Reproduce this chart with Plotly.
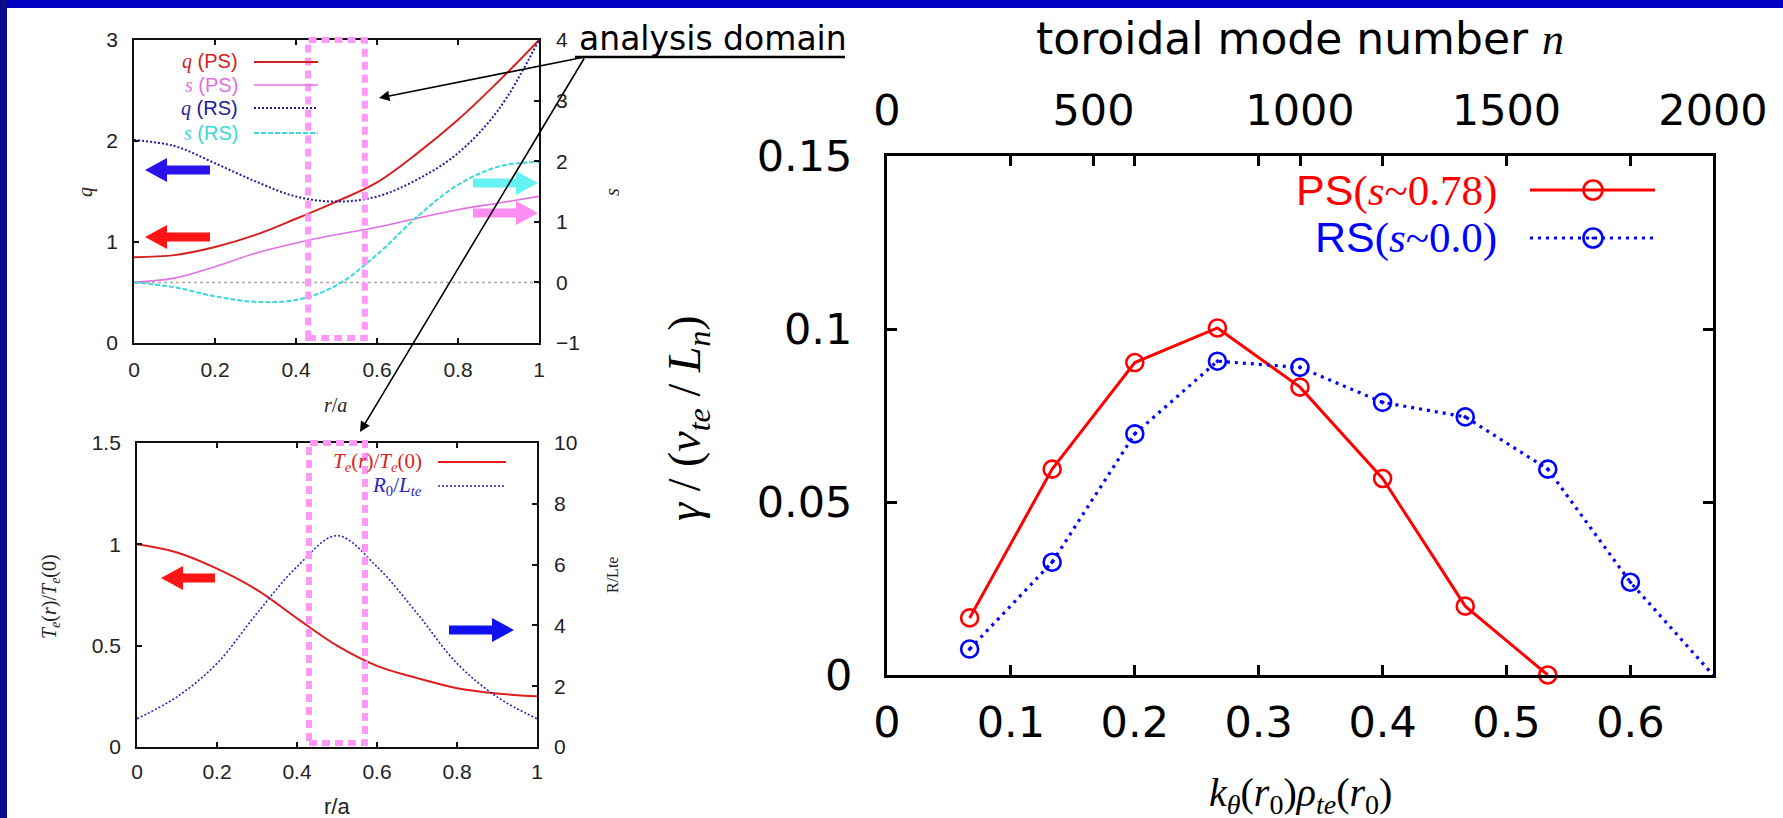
import plotly.graph_objects as go

W, H = 1783, 818

# ---- radial profiles on the r/a grid ----
r_grid = [0.0, 0.1, 0.2, 0.3, 0.4, 0.5, 0.6, 0.7, 0.8, 0.9, 1.0]
q_ps = [0.85, 0.87, 0.95, 1.07, 1.23, 1.40, 1.59, 1.88, 2.21, 2.59, 3.00]
s_ps = [0.00, 0.07, 0.26, 0.48, 0.65, 0.79, 0.91, 1.06, 1.20, 1.31, 1.42]
q_rs = [2.01, 1.95, 1.78, 1.60, 1.45, 1.40, 1.45, 1.62, 1.88, 2.31, 3.00]
s_rs = [0.00, -0.08, -0.23, -0.32, -0.29, -0.05, 0.46, 1.09, 1.61, 1.91, 1.99]
te_ratio = [1.00, 0.96, 0.88, 0.775, 0.635, 0.50, 0.40, 0.34, 0.29, 0.264, 0.25]
r0_over_lte = [0.93, 1.65, 2.75, 4.40, 5.93, 6.95, 5.93, 4.40, 2.75, 1.65, 0.93]

# analysis domain in r/a
domain_r = [0.43, 0.57]

# ---- linear growth rate vs poloidal wave number ----
k_ps = [0.0667, 0.1333, 0.2, 0.2667, 0.3333, 0.4, 0.4667, 0.5333]
gamma_ps = [0.0165, 0.0595, 0.0903, 0.1003, 0.0832, 0.0568, 0.0199, 0.0]
k_rs = [0.0667, 0.1333, 0.2, 0.2667, 0.3333, 0.4, 0.4667, 0.5333, 0.6, 0.6667]
gamma_rs = [0.0075, 0.0326, 0.0697, 0.0907, 0.0889, 0.0788, 0.0746, 0.0595, 0.0268, 0.0]
n_rs = [200, 400, 600, 800, 1000, 1200, 1400, 1600, 1800, 2000]

k_ticks = [0, 0.1, 0.2, 0.3, 0.4, 0.5, 0.6]
k_ticktext = ["0", "0.1", "0.2", "0.3", "0.4", "0.5", "0.6"]
n_ticks = [0, 500, 1000, 1500, 2000]
g_ticks = [0, 0.05, 0.1, 0.15]
g_ticktext = ["0", "0.05", "0.1", "0.15"]

SANS = "Liberation Sans"
SERIF = "Liberation Serif"
WIDE = "DejaVu Sans"

C_QPS, C_SPS, C_QRS, C_SRS = "#d42020", "#e46ee4", "#20209a", "#3cd8d8"


def px(x):
    return x / W


def py(y):
    return 1 - y / H


fig = go.Figure()

# top-left: q and s profiles
fig.add_trace(go.Scatter(x=r_grid, y=q_ps, xaxis="x", yaxis="y", mode="lines",
                         line=dict(color=C_QPS, width=2, shape="spline"), hoverinfo="skip"))
fig.add_trace(go.Scatter(x=r_grid, y=q_rs, xaxis="x", yaxis="y", mode="lines",
                         line=dict(color=C_QRS, width=2, dash="2px,2px", shape="spline"), hoverinfo="skip"))
fig.add_trace(go.Scatter(x=r_grid, y=s_ps, xaxis="x", yaxis="y2", mode="lines",
                         line=dict(color=C_SPS, width=1.6, shape="spline"), hoverinfo="skip"))
fig.add_trace(go.Scatter(x=r_grid, y=s_rs, xaxis="x", yaxis="y2", mode="lines",
                         line=dict(color=C_SRS, width=2, dash="5px,2px", shape="spline"), hoverinfo="skip"))

# bottom-left: temperature and gradient profiles
fig.add_trace(go.Scatter(x=r_grid, y=te_ratio, xaxis="x2", yaxis="y3", mode="lines",
                         line=dict(color="#e01c1c", width=2, shape="spline"), hoverinfo="skip"))
fig.add_trace(go.Scatter(x=r_grid, y=r0_over_lte, xaxis="x2", yaxis="y4", mode="lines",
                         line=dict(color="#2424c0", width=1.6, dash="2px,2px", shape="spline"),
                         hoverinfo="skip"))

# right: growth rates
fig.add_trace(go.Scatter(x=k_ps, y=gamma_ps, xaxis="x3", yaxis="y5", mode="lines+markers",
                         line=dict(color="#ff0000", width=3),
                         marker=dict(symbol="circle-open", size=17, color="#ff0000",
                                     line=dict(width=2.6, color="#ff0000")),
                         cliponaxis=False, hoverinfo="skip"))
fig.add_trace(go.Scatter(x=k_rs, y=gamma_rs, xaxis="x3", yaxis="y5", mode="lines+markers",
                         line=dict(color="#0000ff", width=3.2, dash="3px,5px"),
                         marker=dict(symbol="circle-open-dot", size=17, color="#0000ff",
                                     line=dict(width=2.6, color="#0000ff")),
                         cliponaxis=False, hoverinfo="skip"))
# same RS points against toroidal mode number (keeps the top axis live)
fig.add_trace(go.Scatter(x=n_rs, y=gamma_rs, xaxis="x4", yaxis="y5", mode="markers",
                         marker=dict(size=1, opacity=0), hoverinfo="skip"))

frame_l = dict(showline=True, linecolor="#111111", linewidth=1.8, showgrid=False, zeroline=False,
               ticks="inside", ticklen=5, tickwidth=1.5, tickcolor="#111111", automargin=False,
               tickfont=dict(family=SANS, size=21, color="#222222"))
frame_r = dict(showline=True, linecolor="black", linewidth=3, showgrid=False, zeroline=False,
               ticks="inside", ticklen=10, tickwidth=3, tickcolor="black", automargin=False,
               tickfont=dict(family=WIDE, size=43, color="black"))

top_y = [py(343), py(40)]
bot_y = [py(747), py(443)]
fig.update_layout(
    width=W, height=H, margin=dict(l=0, r=0, t=0, b=0, pad=0, autoexpand=False),
    paper_bgcolor="white", plot_bgcolor="white", showlegend=False,
    xaxis=dict(frame_l, domain=[px(134), px(539)], range=[0, 1], anchor="y", mirror="ticks",
               tickvals=[0, 0.2, 0.4, 0.6, 0.8, 1], ticktext=["0", "0.2", "0.4", "0.6", "0.8", "1"],
               ticklabelstandoff=7),
    yaxis=dict(frame_l, domain=top_y, range=[0, 3], anchor="x", tickvals=[0, 1, 2, 3],
               ticklabelstandoff=10),
    yaxis2=dict(frame_l, range=[-1, 4], overlaying="y", side="right", anchor="x",
                tickvals=[-1, 0, 1, 2, 3, 4], ticklabelstandoff=11),
    xaxis2=dict(frame_l, domain=[px(137), px(537)], range=[0, 1], anchor="y3", mirror="ticks",
                tickvals=[0, 0.2, 0.4, 0.6, 0.8, 1], ticktext=["0", "0.2", "0.4", "0.6", "0.8", "1"],
                ticklabelstandoff=5),
    yaxis3=dict(frame_l, domain=bot_y, range=[0, 1.5], anchor="x2", tickvals=[0, 0.5, 1, 1.5],
                ticktext=["0", "0.5", "1", "1.5"], ticklabelstandoff=10),
    yaxis4=dict(frame_l, range=[0, 10], overlaying="y3", side="right", anchor="x2",
                tickvals=[0, 2, 4, 6, 8, 10], ticklabelstandoff=11),
    xaxis3=dict(frame_r, domain=[px(887), px(1713)], range=[0, 2 / 3], anchor="y5", mirror="ticks",
                tickvals=k_ticks, ticktext=k_ticktext, ticklabelstandoff=7),
    xaxis4=dict(frame_r, range=[0, 2000], overlaying="x3", side="top", anchor="y5",
                tickvals=n_ticks, ticklabelstandoff=11),
    yaxis5=dict(frame_r, domain=[py(675), py(156)], range=[0, 0.15], anchor="x3", mirror="ticks",
                tickvals=g_ticks, ticktext=g_ticktext, ticklabelstandoff=23),
)

shapes = []
# page frame
shapes.append(dict(type="rect", xref="paper", yref="paper", x0=0, x1=1, y0=py(8), y1=1,
                   fillcolor="#0000c0", line=dict(width=0)))
shapes.append(dict(type="rect", xref="paper", yref="paper", x0=0, x1=px(7), y0=0, y1=1,
                   fillcolor="#0c0c8c", line=dict(width=0)))

# zero line of the shear axis
shapes.append(dict(type="line", xref="x", yref="y2", x0=0, x1=1, y0=0, y1=0,
                   line=dict(color="#aaaaaa", width=1.5, dash="3px,3px"), layer="below"))

# analysis-domain boxes
shapes.append(dict(type="rect", xref="x", yref="paper", x0=domain_r[0], x1=domain_r[1],
                   y0=py(338), y1=py(40), line=dict(color="#ff99f5", width=6, dash="8px,5px")))
shapes.append(dict(type="rect", xref="x2", yref="paper", x0=domain_r[0], x1=domain_r[1],
                   y0=py(743), y1=py(443), line=dict(color="#ff99f5", width=6, dash="8px,5px")))


def block_arrow(x_tail, x_tip, y, color, sh=4.5, hh=12, hl=22):
    d = 1 if x_tip > x_tail else -1
    xb = x_tip - d * hl
    pts = [(x_tail, y - sh), (xb, y - sh), (xb, y - hh), (x_tip, y), (xb, y + hh),
           (xb, y + sh), (x_tail, y + sh)]
    path = "M " + " L ".join(f"{px(a):.5f},{py(b):.5f}" for a, b in pts) + " Z"
    return dict(type="path", xref="paper", yref="paper", path=path, fillcolor=color,
                line=dict(width=0))


shapes += [
    block_arrow(210, 145, 170, "#2a12ec"),
    block_arrow(210, 145, 237, "#ff1414"),
    block_arrow(473, 538, 183, "#66f2f2"),
    block_arrow(473, 538, 213, "#ff8cf0"),
    block_arrow(215, 161, 578, "#ff1414"),
    block_arrow(449, 514, 630, "#1010f0"),
]

# legend samples, top-left panel
def hline(x0, x1, y, color, width, dash="solid"):
    return dict(type="line", xref="paper", yref="paper", x0=px(x0), x1=px(x1), y0=py(y), y1=py(y),
                line=dict(color=color, width=width, dash=dash))


shapes += [
    hline(254, 318, 62, C_QPS, 2),
    hline(254, 318, 85, C_SPS, 1.6),
    hline(254, 318, 108, C_QRS, 2, "2px,2px"),
    hline(254, 318, 133, C_SRS, 2, "5px,2px"),
    hline(438, 506, 462, "#e01c1c", 2),
    hline(438, 506, 486, "#2424c0", 1.6, "2px,2px"),
]

# legend samples, right panel
shapes.append(hline(1530, 1655, 190, "#ff0000", 3))
shapes.append(hline(1530, 1655, 238, "#0000ff", 3.2, "3px,5px"))
for yc, col in [(190, "#ff0000"), (238, "#0000ff")]:
    shapes.append(dict(type="circle", xref="paper", yref="paper", x0=px(1593 - 9.5), x1=px(1593 + 9.5),
                       y0=py(yc + 9.5), y1=py(yc - 9.5), line=dict(color=col, width=2.6)))
shapes.append(dict(type="circle", xref="paper", yref="paper", x0=px(1591.5), x1=px(1594.5),
                   y0=py(239.5), y1=py(236.5), fillcolor="#0000ff", line=dict(width=0)))

# underline of the "analysis domain" label
shapes.append(hline(575, 845, 57, "black", 2.5))

fig.update_layout(shapes=shapes)

annotations = []


def text(x, y, s, size, family=SANS, color="black", xanchor="center", angle=0):
    annotations.append(dict(x=px(x), y=py(y), xref="paper", yref="paper", text=s, showarrow=False,
                            xanchor=xanchor, yanchor="middle", textangle=angle, borderpad=0,
                            font=dict(family=family, size=size, color=color)))


def serif(s):
    return f'<span style="font-family:{SERIF}">{s}</span>'


# top-left legend
text(239, 62, serif("<i>q</i>") + " (PS)", 20, color=C_QPS, xanchor="right")
text(239, 85, serif("<i>s</i>") + " (PS)", 20, color=C_SPS, xanchor="right")
text(239, 108, serif("<i>q</i>") + " (RS)", 20, color=C_QRS, xanchor="right")
text(239, 133, serif("<i>s</i>") + " (RS)", 20, color=C_SRS, xanchor="right")

# top-left axis titles
text(86, 192, "<i>q</i>", 20, family=SERIF, color="#222222", angle=-90)
text(612, 192, "<i>s</i>", 20, family=SERIF, color="#222222", angle=-90)
text(335, 405, "<i>r</i>/<i>a</i>", 20, family=SERIF, color="#222222")

# bottom-left legend and titles
text(423, 462, "<i>T<sub>e</sub></i>(<i>r</i>)/<i>T<sub>e</sub></i>(0)", 21, family=SERIF,
     color="#e01c1c", xanchor="right")
text(423, 486, "<i>R</i><sub>0</sub>/<i>L<sub>te</sub></i>", 21, family=SERIF, color="#2424c0",
     xanchor="right")
text(50, 597, "<i>T<sub>e</sub></i>(<i>r</i>)/<i>T<sub>e</sub></i>(0)", 20, family=SERIF,
     color="#222222", angle=-90)
text(612, 575, "R/Lte", 16, family=SERIF, color="#222222", angle=-90)
text(337, 806, "r/a", 22, color="#222222")

# analysis-domain label
text(578, 39, "analysis domain", 33, family=WIDE, xanchor="left")

# right panel titles
text(1300, 38, "toroidal mode number " + serif("<i>n</i>"), 44, family=WIDE)
text(1300, 795, "<i>k<sub>θ</sub></i>(<i>r</i><sub>0</sub>)<i>ρ<sub>te</sub></i>(<i>r</i><sub>0</sub>)",
     40, family=SERIF)
text(688, 418, "<i>γ</i> / (<i>v<sub>te</sub></i> / <i>L<sub>n</sub></i>)", 46, family=SERIF,
     angle=-90)

# right panel legend
text(1498, 190, "PS" + serif("(<i>s</i>~0.78)"), 43, color="#ff0000", xanchor="right")
text(1498, 238, "RS" + serif("(<i>s</i>~0.0)"), 43, color="#0000ff", xanchor="right")

# pointers from the label to the analysis domains
for hx, hy in [(379, 98), (360, 432)]:
    annotations.append(dict(x=px(hx), y=py(hy), xref="paper", yref="paper", text="",
                            showarrow=True, ax=585 - hx, ay=57 - hy, axref="pixel", ayref="pixel",
                            arrowhead=2, arrowsize=1.3, arrowwidth=1.6, arrowcolor="black",
                            standoff=0, startstandoff=0))

fig.update_layout(annotations=annotations)

fig.write_html("out.html")
